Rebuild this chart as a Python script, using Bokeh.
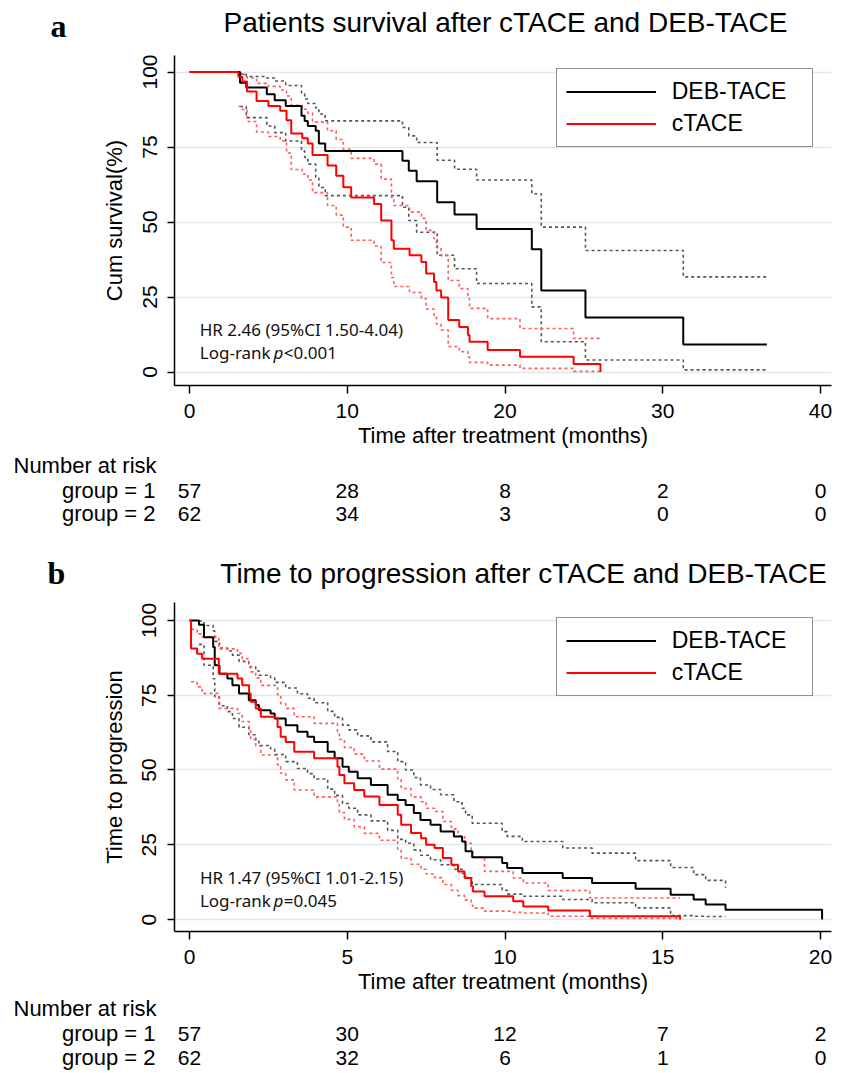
from bokeh.plotting import figure
from bokeh.models import Range1d, FixedTicker, Legend, LegendItem
from bokeh.core.properties import value
from bokeh.embed import file_html
from bokeh.resources import INLINE

# ---------------- data: panel a (overall survival) ----------------
os_deb_t = [0, 3.2, 3.6, 4.9, 5.4, 6.1, 7.1, 7.3, 7.5, 8.0, 8.2, 8.6, 13.5, 13.9, 14.4,
            15.7, 16.8, 18.2, 21.7, 22.3, 25.1, 31.3, 36.6]
os_deb_s = [100, 96.4, 94.8, 92.6, 90.6, 88.7, 85.4, 83.7, 82.0, 80.4, 76.2, 73.7, 70.4,
            67.1, 63.6, 56.6, 52.5, 47.7, 40.9, 27.2, 18.2, 9.2, 9.2]
os_deb_lo = [88.5, 84.8, 82.0, 79.8, 77.0, 73.7, 71.5, 69.3, 64.9, 61.5, 58.8, 54.9, 50.5,
             46.6, 38.9, 34.4, 29.5, 21.7, 10.1, 4.0, 0.7, 0.7]
os_deb_hi = [99.3, 98.5, 98.0, 97.0, 95.5, 93.0, 91.0, 89.5, 88.0, 86.0, 83.7, 81.5, 78.7,
             76.5, 70.6, 67.6, 64.0, 59.4, 48.3, 40.5, 31.7, 31.7]

os_c_t = [0, 3.1, 3.35, 3.65, 4.25, 5.0, 5.75, 6.15, 6.45, 7.15, 7.5, 7.8, 8.75, 9.3, 9.75,
          10.25, 11.7, 12.15, 12.8, 12.95, 13.95, 14.7, 15.0, 15.5, 15.65, 15.95, 16.4, 17.1,
          17.65, 17.75, 18.9, 20.95, 24.35, 26.05]
os_c_s = [100, 98.4, 96.8, 93.5, 90.3, 88.7, 87.1, 83.9, 79.5, 77.9, 76.2, 72.3, 68.8, 65.4,
          61.6, 58.2, 56.0, 50.5, 43.9, 41.1, 38.9, 36.7, 32.8, 30.0, 27.2, 24.8, 17.3, 15.0,
          12.3, 10.1, 7.3, 5.1, 2.7, 0]
os_c_lo = [88.5, 87.5, 83.5, 80.0, 78.5, 77.0, 73.0, 67.5, 66.0, 64.0, 59.8, 55.5, 52.3,
           48.3, 43.9, 42.0, 36.5, 31.5, 28.5, 26.5, 24.5, 21.0, 18.5, 16.0, 14.0, 8.5, 6.8,
           5.0, 3.2, 2.3, 1.2, 0.2, 0.2]
os_c_hi = [99.8, 99.2, 98.0, 96.2, 95.2, 94.0, 92.0, 88.9, 87.6, 86.3, 83.3, 80.4, 77.5,
           74.2, 71.2, 69.3, 64.3, 58.2, 55.5, 53.3, 51.2, 47.2, 44.4, 41.5, 38.8, 30.5, 27.8,
           24.5, 21.2, 17.8, 14.5, 11.2, 11.2]

# ---------------- data: panel b (time to progression) ----------------
ttp_deb_t = [0, 0.30, 0.46, 0.75, 0.80, 0.95, 1.20, 1.36, 1.57, 1.88, 2.10, 2.20, 2.57, 2.70,
             3.05, 3.42, 3.74, 3.95, 4.38, 4.60, 4.85, 5.05, 5.33, 5.75, 6.28, 6.60, 6.85,
             7.11, 7.32, 7.64, 7.96, 8.38, 8.64, 8.75, 8.96, 9.91, 10.07, 10.55, 11.83, 12.76,
             14.14, 15.25, 15.98, 16.36, 16.99, 20.05]
ttp_deb_s = [100, 98.6, 94.4, 91.1, 85.0, 82.2, 80.6, 78.3, 75.6, 73.3, 71.7, 70.0, 68.9, 67.2,
             65.0, 62.8, 61.1, 59.4, 56.1, 53.9, 51.1, 49.4, 47.2, 45.0, 41.7, 40.0, 38.3,
             35.6, 33.3, 31.7, 29.4, 27.8, 26.1, 22.8, 20.8, 18.9, 17.2, 15.6, 13.9, 12.2,
             10.3, 8.3, 6.7, 5.0, 3.3, 0]
ttp_deb_lo = [92.0, 85.0, 80.5, 74.5, 71.5, 69.5, 67.2, 64.3, 61.8, 60.0, 58.2, 57.0, 55.2,
              52.8, 50.5, 48.8, 47.0, 43.6, 41.5, 38.8, 37.2, 35.0, 33.0, 29.8, 26.8, 25.5,
              23.3, 21.5, 20.0, 18.3, 16.8, 15.4, 13.9, 11.7, 9.8, 8.5, 7.8, 6.7, 5.6, 3.9,
              1.3, 1.1, 1.0, 1.0]
ttp_deb_hi = [99.8, 98.3, 96.5, 93.0, 90.8, 89.8, 88.4, 86.3, 84.5, 83.2, 81.7, 80.8, 79.3,
              77.4, 75.5, 74.0, 72.5, 69.6, 67.6, 65.0, 63.4, 61.4, 59.4, 56.2, 52.8, 50.0,
              47.5, 45.0, 43.5, 41.7, 39.4, 37.2, 35.0, 32.2, 29.4, 27.8, 26.1, 23.9, 22.2,
              19.7, 17.4, 15.0, 13.1, 10.6]

ttp_c_t = [0, 0.05, 0.24, 0.40, 0.93, 1.52, 1.67, 1.89, 1.94, 2.10, 2.26, 2.73, 2.79, 2.89,
           3.05, 3.32, 3.95, 4.69, 4.75, 4.91, 5.22, 5.54, 6.02, 6.60, 6.71, 7.02, 7.34, 7.50,
           7.77, 8.03, 8.30, 8.51, 8.72, 8.93, 8.98, 9.35, 10.26, 10.58, 11.37, 12.69, 15.55]
ttp_c_s = [100, 90.6, 88.9, 87.2, 82.2, 80.6, 78.3, 75.6, 72.8, 70.6, 67.8, 67.2, 64.4, 61.1,
           59.4, 56.1, 53.9, 51.1, 48.3, 45.6, 43.3, 41.1, 38.3, 35.0, 31.7, 28.9, 27.2, 25.0,
           23.9, 20.6, 18.3, 16.1, 13.9, 11.1, 9.4, 7.8, 6.1, 4.4, 3.0, 1.1, 0]
ttp_c_lo = [79.5, 77.8, 75.6, 70.6, 68.9, 66.2, 63.2, 60.2, 58.0, 55.0, 54.4, 51.7, 48.9,
            46.7, 43.3, 41.0, 38.5, 35.8, 33.5, 31.0, 28.8, 26.5, 23.5, 20.5, 18.5, 16.8,
            15.2, 14.0, 11.7, 9.8, 8.0, 6.5, 4.8, 3.8, 2.8, 2.4, 2.2, 1.1, 0.4, 0.4]
ttp_c_hi = [97.0, 95.5, 94.5, 90.5, 89.0, 87.2, 85.0, 82.8, 80.8, 78.3, 77.5, 75.2, 72.2,
            70.6, 67.8, 65.6, 62.8, 60.2, 57.5, 55.3, 53.0, 50.3, 47.0, 43.8, 41.0, 39.4,
            37.2, 36.1, 32.8, 30.3, 28.0, 25.5, 22.8, 20.8, 16.1, 13.9, 12.2, 9.7, 7.2, 7.2]

y_ticks = [0, 25, 50, 75, 100]
os_x_ticks = [0, 10, 20, 30, 40]
ttp_x_ticks = [0, 5, 10, 15, 20]

os_risk_g1 = [57, 28, 8, 2, 0]
os_risk_g2 = [62, 34, 3, 0, 0]
ttp_risk_g1 = [57, 30, 12, 7, 2]
ttp_risk_g2 = [62, 32, 6, 1, 0]

series_labels = ["DEB-TACE", "cTACE"]
group_labels = ["group = 1", "group = 2"]

# ---------------- layout / style constants ----------------
W = 842
SANS = "Liberation Sans"
NOTE = "Noto Sans"
FRAME_L, FRAME_R = 174, 831          # canvas px of plot frame
T0_PX, TMAX_PX = 189, 820            # canvas px of first / last x tick
GRID = "#dfe8ee"
CI_GRAY = "#555555"
CI_RED = "#ff5c5c"


def bare(h, xr, yr):
    p = figure(width=W, height=h, x_range=xr, y_range=yr, output_backend="svg",
               toolbar_location=None, min_border=0, x_axis_location=None,
               y_axis_location=None, title=None)
    p.outline_line_color = None
    p.xgrid.visible = False
    p.ygrid.visible = False
    return p


def header(h, letter, lxy, title, txy):
    p = bare(h, Range1d(0, W), Range1d(h, 0))
    p.text(x=[lxy[0]], y=[lxy[1]], text=[letter], text_font=value("Liberation Serif"),
           text_font_style="bold", text_font_size="32px", text_baseline="middle",
           text_align="left", text_color="black")
    p.text(x=[txy[0]], y=[txy[1]], text=[title], text_font=value(SANS), text_font_size="28px",
           text_baseline="middle", text_align="center", text_color="black")
    return p


def km(h, bottom, xmax_tick, xticks, ylim, ylabel, deb, ctace, legend_loc, hr_text, lr_val,
       note_x, note_y):
    scale = (TMAX_PX - T0_PX) / xmax_tick
    xr = Range1d((FRAME_L - T0_PX) / scale, (FRAME_R - T0_PX) / scale)
    p = figure(width=W, height=h, x_range=xr, y_range=Range1d(*ylim), output_backend="svg",
               toolbar_location=None, title=None, min_border_left=FRAME_L,
               min_border_right=W - FRAME_R, min_border_top=3, min_border_bottom=bottom)
    p.outline_line_color = None
    p.xgrid.visible = False
    p.ygrid.grid_line_color = GRID
    p.ygrid.grid_line_width = 1.5
    p.xaxis.ticker = FixedTicker(ticks=xticks)
    p.yaxis.ticker = FixedTicker(ticks=y_ticks)
    for ax in (p.xaxis[0], p.yaxis[0]):
        ax.axis_line_color = "black"
        ax.axis_line_width = 1.5
        ax.major_tick_line_color = "black"
        ax.major_tick_line_width = 1.5
        ax.major_tick_in = 0
        ax.minor_tick_line_color = None
        ax.major_label_text_font = SANS
        ax.major_label_text_font_size = "21px"
        ax.major_label_text_color = "black"
        ax.axis_label_text_font = SANS
        ax.axis_label_text_font_size = "22px"
        ax.axis_label_text_font_style = "normal"
        ax.axis_label_text_color = "black"
    p.xaxis.major_tick_out = 8
    p.xaxis.major_label_standoff = 10
    p.xaxis.axis_label_standoff = 2
    p.xaxis.axis_label = "Time after treatment (months)"
    p.yaxis.major_tick_out = 7
    p.yaxis.major_label_orientation = "vertical"
    p.yaxis.major_label_standoff = 11
    p.yaxis.axis_label_standoff = 13
    p.yaxis.axis_label = ylabel

    # confidence bands (dotted), then survival curves
    for (t, s, lo, hi), ci_col in ((deb, CI_GRAY), (ctace, CI_RED)):
        ct = t[1:1 + len(lo)]
        p.step(ct, lo, mode="after", line_color=ci_col, line_width=1.6, line_dash="3 3")
        p.step(ct, hi, mode="after", line_color=ci_col, line_width=1.6, line_dash="3 3")
    renderers = []
    for (t, s, lo, hi), main_col in ((deb, "black"), (ctace, "#ff0000")):
        renderers.append(p.step(t, s, mode="after", line_color=main_col, line_width=2))

    legend = Legend(items=[LegendItem(label=series_labels[i], renderers=[renderers[i]])
                           for i in range(2)],
                    location=legend_loc, orientation="vertical", padding=9, spacing=5,
                    margin=0, glyph_width=90, glyph_height=25, label_height=25,
                    label_width=131, label_standoff=16, label_text_font=SANS,
                    label_text_font_size="23px", label_text_color="black",
                    border_line_color="#222222", border_line_width=1.5,
                    background_fill_color="white", background_fill_alpha=1.0)
    p.add_layout(legend)

    kw = dict(text_font=value(NOTE), text_font_size="17px", text_baseline="middle",
              text_align="left", text_color="#111111")
    p.text(x=[note_x[0]], y=[note_y[0]], text=[hr_text], **kw)
    p.text(x=[note_x[0]], y=[note_y[1]], text=["Log-rank"], **kw)
    p.text(x=[note_x[1]], y=[note_y[1]], text=["p"], text_font_style="italic", **kw)
    p.text(x=[note_x[2]], y=[note_y[1]], text=[lr_val], **kw)
    return p


def risk(h, xmax_tick, xticks, g1, g2, ymid):
    scale = (TMAX_PX - T0_PX) / xmax_tick
    xr = Range1d((0 - T0_PX) / scale, (W - T0_PX) / scale)
    p = bare(h, xr, Range1d(h, 0))
    kw = dict(text_font=value(SANS), text_baseline="middle", text_color="black")
    p.text(x=[(13 - T0_PX) / scale], y=[ymid[0]], text=["Number at risk"],
           text_align="left", text_font_size="22px", **kw)
    p.text(x=[(155 - T0_PX) / scale] * 2, y=ymid[1:], text=group_labels,
           text_align="right", text_font_size="22px", **kw)
    p.text(x=xticks, y=[ymid[1]] * len(xticks), text=[str(v) for v in g1],
           text_align="center", text_font_size="21px", **kw)
    p.text(x=xticks, y=[ymid[2]] * len(xticks), text=[str(v) for v in g2],
           text_align="center", text_font_size="21px", **kw)
    return p


# strip heights (px):  header a 52 | plot a 398 | risk a 82 | header b 67 | plot b 397 | risk b 77
h1 = header(52, "a", (50, 25), "Patients survival after cTACE and DEB-TACE", (505, 22))
k1 = km(398, 65, 40, os_x_ticks, (-4.5, 105.5), "Cum survival(%)",
        (os_deb_t, os_deb_s, os_deb_lo, os_deb_hi), (os_c_t, os_c_s, os_c_lo, os_c_hi),
        (381.7, 238), "HR 2.46 (95%CI 1.50-4.04)", "<0.001", (0.65, 5.32, 5.98), (14.3, 6.6))
r1 = risk(82, 40, os_x_ticks, os_risk_g1, os_risk_g2, [465 - 450, 490 - 450, 513 - 450])

h2 = header(67, "b", (47, 572 - 532), "Time to progression after cTACE and DEB-TACE",
            (523, 573 - 532))
k2 = km(397, 64, 20, ttp_x_ticks, (-4.0, 106.0), "Time to progression",
        (ttp_deb_t, ttp_deb_s, ttp_deb_lo, ttp_deb_hi), (ttp_c_t, ttp_c_s, ttp_c_lo, ttp_c_hi),
        (381.7, 235), "HR 1.47 (95%CI 1.01-2.15)", "=0.045", (0.33, 2.66, 2.99), (14.2, 6.2))
r2 = risk(77, 20, ttp_x_ticks, ttp_risk_g1, ttp_risk_g2, [1008 - 996, 1033 - 996, 1057 - 996])

# separate roots so that Bokeh does not align the frames of the text-only strips
open("out.html", "w").write(file_html([h1, k1, r1, h2, k2, r2], INLINE))
